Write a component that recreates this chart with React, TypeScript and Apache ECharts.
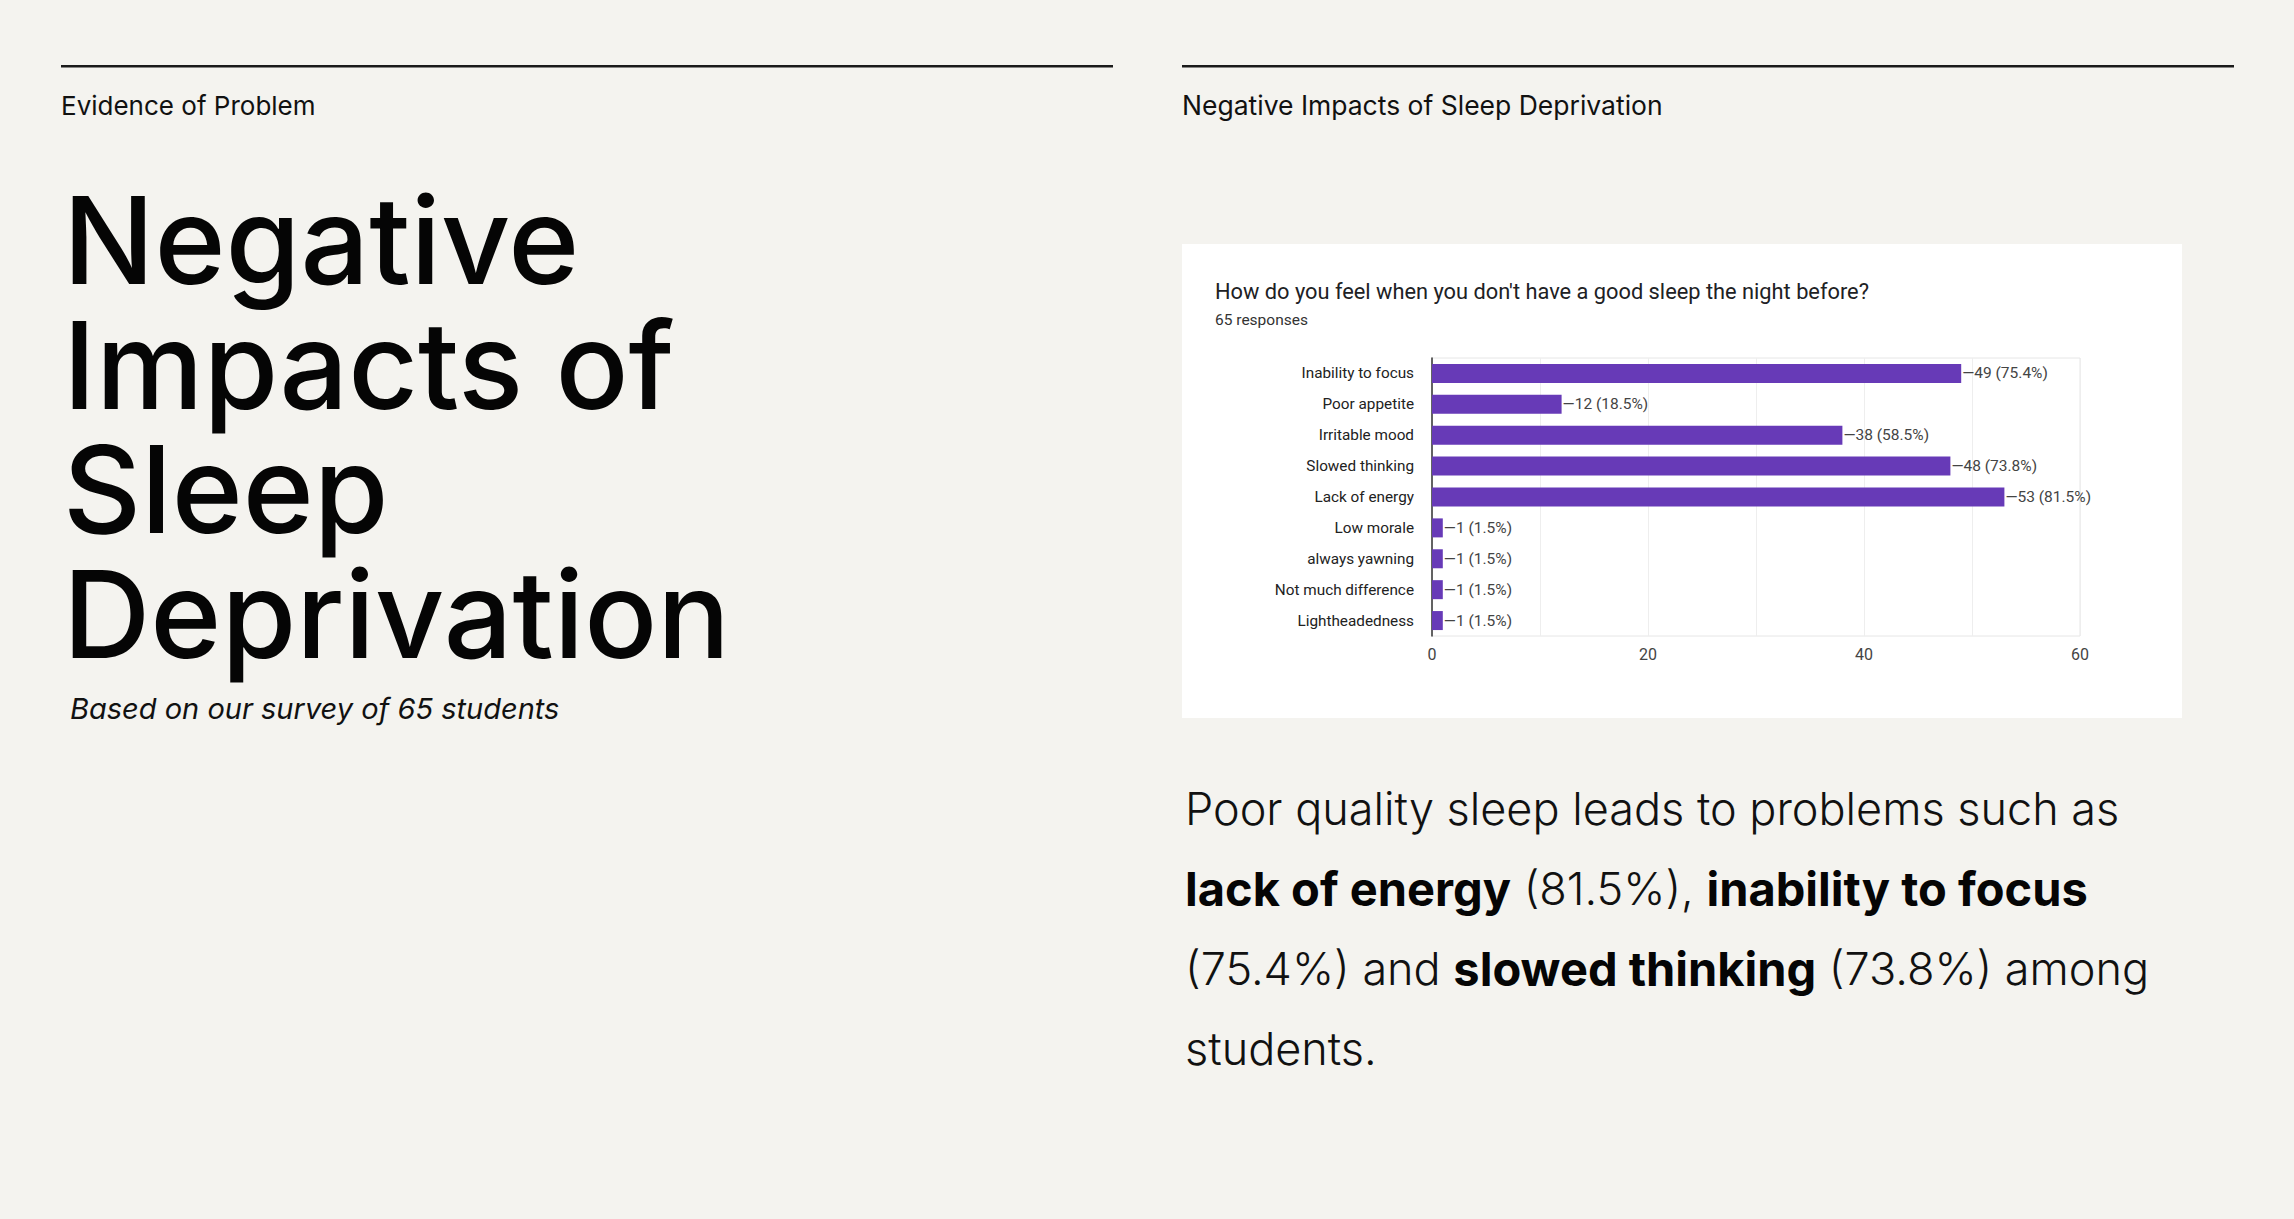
import React, { useEffect, useRef } from "react";
import * as echarts from "echarts";

const categories = [
  "Inability to focus",
  "Poor appetite",
  "Irritable mood",
  "Slowed thinking",
  "Lack of energy",
  "Low morale",
  "always yawning",
  "Not much difference",
  "Lightheadedness",
];
const counts = [49, 12, 38, 48, 53, 1, 1, 1, 1];
const percents = ["75.4", "18.5", "58.5", "73.8", "81.5", "1.5", "1.5", "1.5", "1.5"];
const xTickLabels = [0, 20, 40, 60];

const titleLines = ["Negative", "Impacts of", "Sleep", "Deprivation"];

const W = 2294;
const H = 1219;
const BG = "#F4F3EF";
const SANS = "Inter, 'Noto Sans', sans-serif";
const ROBOTO = "Roboto, 'Noto Sans', sans-serif";

export default function App() {
  const ref = useRef<HTMLDivElement>(null);
  useEffect(() => {
    document.body.style.margin = "0";
    document.body.style.background = BG;
    const chart = echarts.init(ref.current!, null, { renderer: "svg" });
    const graphic: any[] = [
      { type: "rect", z: -10, shape: { x: 1182, y: 244, width: 1000, height: 474 }, style: { fill: "#FFFFFF" } },
      { type: "rect", shape: { x: 61, y: 65, width: 1052, height: 2.5 }, style: { fill: "#1A1A1A" } },
      { type: "rect", shape: { x: 1182, y: 65, width: 1052, height: 2.5 }, style: { fill: "#1A1A1A" } },
      {
        type: "text", x: 61, y: 105,
        style: { text: "Evidence of Problem", fontFamily: SANS, fontSize: 26, fill: "#111", verticalAlign: "middle" },
      },
      {
        type: "text", x: 1182, y: 105,
        style: { text: "Negative Impacts of Sleep Deprivation", fontFamily: SANS, fontSize: 26.5, fill: "#111", verticalAlign: "middle" },
      },
      {
        type: "text", x: 63, y: 178,
        style: {
          text: titleLines.join("\n"), fontFamily: SANS, fontSize: 121, fontWeight: 500,
          lineHeight: 124.5, fill: "#050505", verticalAlign: "top",
        },
      },
      {
        type: "text", x: 70, y: 708,
        style: { text: "Based on our survey of 65 students", fontFamily: SANS, fontSize: 29, fontStyle: "italic", fill: "#111", verticalAlign: "middle" },
      },
      {
        type: "text", x: 1215, y: 291,
        style: { text: "How do you feel when you don't have a good sleep the night before?", fontFamily: ROBOTO, fontSize: 21.8, fill: "#202124", verticalAlign: "middle" },
      },
      {
        type: "text", x: 1215, y: 320,
        style: { text: "65 responses", fontFamily: ROBOTO, fontSize: 15.5, fill: "#333", verticalAlign: "middle" },
      },
    ];
    const rich = {
      n: { fontFamily: SANS, fontSize: 45, fontWeight: 300, fill: "#111" },
      b: { fontFamily: SANS, fontSize: 47, fontWeight: 700, fill: "#050505" },
    };
    const bodyLines = [
      "{n|Poor quality sleep leads to problems such as}",
      "{b|lack of energy}{n| (81.5%), }{b|inability to focus}",
      "{n|(75.4%) and }{b|slowed thinking}{n| (73.8%) among}",
      "{n|students.}",
    ];
    const bodyY = [808, 888, 968, 1048];
    bodyLines.forEach((t, i) => {
      graphic.push({
        type: "text", x: 1185, y: bodyY[i],
        style: { text: t, rich, verticalAlign: "middle" },
      });
    });

    chart.setOption({
      animation: false,
      backgroundColor: BG,
      graphic,
      grid: {
        left: 1432, top: 358, width: 648, height: 278,
        show: true, borderColor: "#E6E6E6", borderWidth: 1, backgroundColor: "transparent",
      },
      xAxis: {
        type: "value", min: 0, max: 60, interval: 10,
        axisLine: { show: false }, axisTick: { show: false },
        splitLine: { lineStyle: { color: "#EEEEEE", width: 1 } },
        axisLabel: {
          margin: 10, fontFamily: ROBOTO, fontSize: 16, color: "#444",
          formatter: (v: number) => (xTickLabels.includes(v) ? String(v) : ""),
        },
      },
      yAxis: {
        type: "category", inverse: true, data: categories,
        axisLine: { show: true, lineStyle: { color: "#333", width: 1.5 } },
        axisTick: { show: false },
        axisLabel: { margin: 18, fontFamily: ROBOTO, fontSize: 15.3, color: "#222" },
      },
      series: [
        {
          type: "bar", data: counts, barWidth: 19,
          itemStyle: { color: "#673AB7" },
          label: {
            show: true, position: "right", distance: 1,
            fontFamily: ROBOTO, fontSize: 15.5, color: "#444",
            formatter: (p: any) => `\u2014${counts[p.dataIndex]} (${percents[p.dataIndex]}%)`,
          },
        },
      ],
    });
    return () => chart.dispose();
  }, []);
  return <div ref={ref} style={{ width: W, height: H, background: BG }} />;
}
